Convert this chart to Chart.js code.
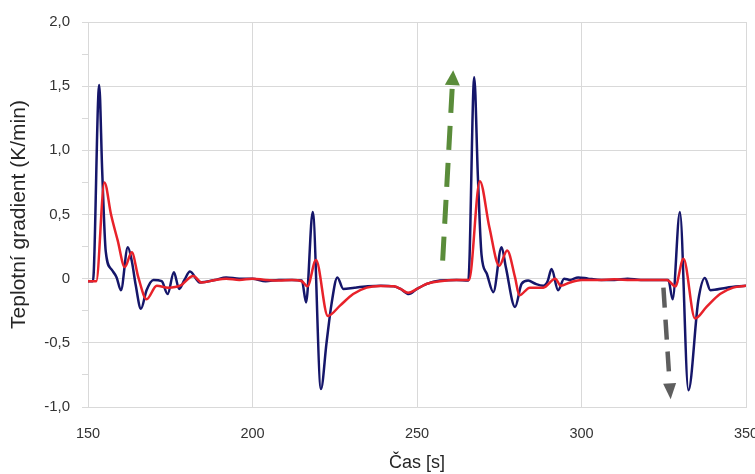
<!DOCTYPE html>
<html>
<head>
<meta charset="utf-8">
<script src="https://cdn.jsdelivr.net/npm/chart.js@4/dist/chart.umd.min.js"></script>
<style>
  html, body { margin: 0; padding: 0; background: #fff; }
  #chart { display: block; }
</style>
</head>
<body>
<canvas id="chart" width="755" height="474"></canvas>
<script>
// time [s] and gradient [K/min]
const blueTime = [150, 151.5, 153.4, 154.3, 155.4, 157.2, 158.7, 160, 162.1, 163.3, 164.5, 166.1, 167.8, 169.9, 172.4, 174.2, 176.1, 177.7, 179.3, 181, 184, 188.6, 192, 196, 200, 204, 208, 212, 215, 216.3, 218.3, 220.8, 222.5, 224, 225.8, 227.6, 231, 235, 239, 243, 245, 247.5, 250, 253, 257, 262, 265.6, 267.4, 268.5, 269.6, 271.2, 273.2, 275.7, 277, 279.8, 281.8, 283.8, 286, 288.4, 289.7, 290.9, 292.9, 294.7, 296.5, 299, 302, 306, 310, 314, 318, 322, 326.4, 327.7, 329.9, 332.5, 335.5, 337.5, 339.2, 344.1, 350];
const blueValues = [-0.02, -0.02, 1.51, 0.85, 0.21, 0.07, 0.01, -0.09, 0.245, 0.14, -0.05, -0.235, -0.09, -0.01, -0.02, -0.12, 0.05, -0.08, -0.01, 0.055, -0.03, -0.01, 0.01, 0.0, 0.0, -0.02, -0.01, -0.01, -0.015, -0.185, 0.52, -0.86, -0.5, -0.2, 0.01, -0.08, -0.07, -0.06, -0.055, -0.06, -0.08, -0.12, -0.08, -0.04, -0.015, -0.01, -0.015, 1.57, 0.8, 0.19, 0.04, -0.105, 0.245, 0.09, -0.22, -0.04, -0.015, -0.04, -0.055, -0.02, 0.075, -0.09, 0.0, -0.01, 0.01, 0.0, -0.01, -0.01, 0.0, -0.01, -0.01, -0.01, -0.16, 0.52, -0.87, -0.17, 0.005, -0.09, -0.07, -0.055];

const redTime = [150, 152.5, 155, 157, 159, 161.2, 163.3, 165.3, 167.8, 170.9, 174.4, 178, 182, 184.6, 188.6, 192, 196, 200, 204, 208, 212, 215, 216.7, 219.3, 222.9, 226.6, 230.6, 234.7, 238.8, 243, 245, 247.3, 250, 253, 257, 262, 265.8, 269.1, 272, 275, 277.4, 279.8, 281.1, 284.3, 288.4, 292, 293.7, 296.5, 300, 305, 310, 315, 320, 326, 328.5, 331, 334.5, 338, 342.1, 346.1, 350];
const redValues = [-0.02, -0.02, 0.75, 0.5, 0.3, 0.09, 0.205, 0.01, -0.16, -0.055, -0.07, -0.055, 0.02, -0.03, -0.01, 0.0, -0.01, 0.0, -0.01, -0.015, -0.01, -0.02, -0.06, 0.145, -0.29, -0.21, -0.12, -0.07, -0.057, -0.06, -0.08, -0.11, -0.08, -0.04, -0.02, -0.01, -0.01, 0.76, 0.4, 0.10, 0.22, 0.01, -0.13, -0.07, -0.07, 0.0, -0.055, -0.03, -0.01, -0.01, -0.005, -0.01, -0.01, -0.01, -0.06, 0.155, -0.31, -0.22, -0.12, -0.07, -0.055];

// axis ticks
const xTicks = [150, 200, 250, 300, 350];
const yTicks = [-1.0, -0.5, 0, 0.5, 1.0, 1.5, 2.0];

// dashed arrows: [time, value] of start and tip
const greenArrow = [[257.8, 0.14], [261.0, 1.625]];
const grayArrow = [[324.9, -0.07], [327.1, -0.94]];

const toPoints = (t, v) => t.map((x, i) => ({ x: x, y: v[i] }));
const fmt = v => v === 0 ? '0' : v.toFixed(1).replace('.', ',');
const gridColor = '#d9d9d9';

const arrowPlugin = {
  id: 'arrows',
  afterDatasetsDraw(chart) {
    const { ctx, scales: { x, y } } = chart;
    const draw = (pts, color, width, dash, headLen, headHalf) => {
      const x0 = x.getPixelForValue(pts[0][0]), y0 = y.getPixelForValue(pts[0][1]);
      const x1 = x.getPixelForValue(pts[1][0]), y1 = y.getPixelForValue(pts[1][1]);
      const len = Math.hypot(x1 - x0, y1 - y0);
      const ux = (x1 - x0) / len, uy = (y1 - y0) / len;
      const bx = x1 - ux * headLen, by = y1 - uy * headLen;
      ctx.save();
      ctx.strokeStyle = color;
      ctx.fillStyle = color;
      ctx.lineWidth = width;
      ctx.setLineDash(dash);
      ctx.beginPath();
      ctx.moveTo(x0, y0);
      ctx.lineTo(bx, by);
      ctx.stroke();
      ctx.setLineDash([]);
      ctx.beginPath();
      ctx.moveTo(x1, y1);
      ctx.lineTo(bx - uy * headHalf, by + ux * headHalf);
      ctx.lineTo(bx + uy * headHalf, by - ux * headHalf);
      ctx.closePath();
      ctx.fill();
      ctx.restore();
    };
    draw(greenArrow, '#5a8c3a', 5, [24, 13], 15, 7.5);
    draw(grayArrow, '#5e5e5e', 4.5, [20, 12], 16, 6.5);
  }
};

new Chart(document.getElementById('chart'), {
  type: 'line',
  data: {
    datasets: [
      {
        data: toPoints(redTime, redValues),
        borderColor: '#e8222a',
        borderWidth: 2.5,
        cubicInterpolationMode: 'monotone'
      },
      {
        data: toPoints(blueTime, blueValues),
        borderColor: '#15166a',
        borderWidth: 2.5,
        cubicInterpolationMode: 'monotone'
      }
    ]
  },
  options: {
    responsive: false,
    animation: false,
    devicePixelRatio: 1,
    layout: { padding: { top: 22, right: 9, left: 0, bottom: 0 } },
    elements: { point: { radius: 0 } },
    plugins: { legend: { display: false }, tooltip: { enabled: false } },
    scales: {
      x: {
        type: 'linear',
        min: 150,
        max: 350,
        afterBuildTicks: s => { s.ticks = xTicks.map(v => ({ value: v })); },
        afterFit: s => { s.height = 67; s.paddingLeft = 0; s.paddingRight = 0; },
        ticks: { font: { family: 'Liberation Sans', size: 14.5 }, color: '#333', padding: 18, maxRotation: 0 },
        grid: { color: gridColor, drawTicks: false },
        border: { color: gridColor },
        title: { display: true, text: 'Čas [s]', font: { family: 'Liberation Sans', size: 18 }, color: '#262626', padding: { top: 6, bottom: 0 } }
      },
      y: {
        min: -1,
        max: 2,
        ticks: {
          stepSize: 0.25,
          font: { family: 'Liberation Sans', size: 15 },
          color: '#333',
          padding: 12,
          callback: v => yTicks.some(t => Math.abs(t - v) < 1e-9) ? fmt(v) : ''
        },
        afterFit: s => { s.width = 88; s.paddingTop = 0; s.paddingBottom = 0; },
        grid: {
          color: c => Math.abs(c.tick.value * 2 - Math.round(c.tick.value * 2)) < 1e-9 ? gridColor : 'rgba(0,0,0,0)',
          tickColor: gridColor,
          tickLength: 6
        },
        border: { color: gridColor },
        title: { display: true, text: 'Teplotní gradient (K/min)', font: { family: 'Liberation Sans', size: 21 }, color: '#262626', padding: { top: 7, bottom: 0 } }
      }
    }
  },
  plugins: [arrowPlugin]
});
</script>
</body>
</html>
